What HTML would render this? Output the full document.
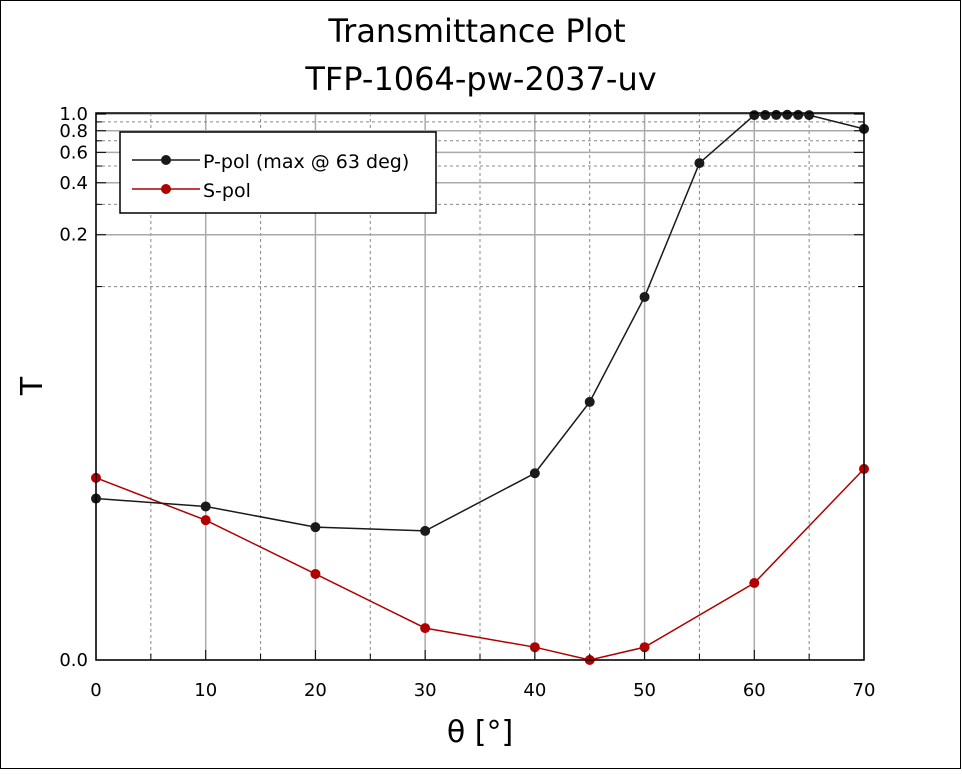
<!DOCTYPE html>
<html><head><meta charset="utf-8"><style>
body{margin:0;background:#fff;font-family:"DejaVu Sans","Liberation Sans",sans-serif}
</style></head><body>
<svg width="962" height="770" xmlns="http://www.w3.org/2000/svg">
<rect x="0.5" y="0.5" width="960" height="768" fill="#fff" stroke="#000"/>
<text x="477" y="42" font-size="32" text-anchor="middle">Transmittance Plot</text>
<text x="481" y="90" font-size="32" text-anchor="middle">TFP-1064-pw-2037-uv</text>
<g id="grid"></g>
<g id="series"></g>
<rect x="96" y="113" width="768" height="547" fill="none" stroke="#000" stroke-width="1.5"/>
<g id="ticks"></g>
<text x="480" y="742" font-size="30" text-anchor="middle">θ [°]</text>
<text x="42" y="386" font-size="30" text-anchor="middle" transform="rotate(-90 42 386)">T</text>
<g>
<rect x="120" y="132" width="316" height="81" fill="#fff" stroke="#000" stroke-width="1.5"/>
<line x1="132" y1="160" x2="200" y2="160" stroke="#1a1a1a" stroke-width="1.5"/>
<circle cx="166" cy="160" r="5" fill="#1a1a1a"/>
<text x="203" y="168" font-size="19">P-pol (max @ 63 deg)</text>
<line x1="132" y1="189" x2="200" y2="189" stroke="#b00000" stroke-width="1.5"/>
<circle cx="166" cy="189" r="5" fill="#b00000"/>
<text x="203" y="197" font-size="19">S-pol</text>
</g>
</svg>
<script>
const pAngles=[0,10,20,30,40,45,50,55,60,61,62,63,64,65,70];
const pValues=[0.0053,0.0047,0.0034,0.0032,0.0077,0.021,0.087,0.52,0.985,0.986,0.988,0.99,0.988,0.985,0.82];
const sAngles=[0,10,20,30,40,45,50,60,70];
const sValues=[0.0072,0.0038,0.0015,0.00037,0.00013,0,0.00013,0.00125,0.0082];
const yTicks=[0,0.2,0.4,0.6,0.8,1.0];
const yMinor=[0.1,0.3,0.5,0.7,0.9];
const xTicks=[0,10,20,30,40,50,60,70];
const xMinor=[5,15,25,35,45,55,65];
const NS="http://www.w3.org/2000/svg";
const C=0.0007,X0=96,X1=864,Y0=660,Y1=114;
const den=Math.log((1+C)/C);
function xs(v){return X0+(X1-X0)*v/70;}
function ys(t){return Y0-(Y0-Y1)*Math.log((t+C)/C)/den;}
function mk(tag,attrs,parent){const e=document.createElementNS(NS,tag);for(const k in attrs)e.setAttribute(k,attrs[k]);parent.appendChild(e);return e;}
const grid=document.getElementById('grid'),ticks=document.getElementById('ticks'),ser=document.getElementById('series');
xTicks.forEach(v=>{const l=mk('line',{x1:xs(v),x2:xs(v),y1:113,y2:660,stroke:'#aaa','stroke-width':1.5},grid);

const t=mk('text',{x:xs(v),y:696,'font-size':18,'text-anchor':'middle'},ticks);t.textContent=v;

mk('line',{x1:xs(v),x2:xs(v),y1:660,y2:650,stroke:'#000'},ticks);});
xMinor.forEach(v=>{const l=mk('line',{x1:xs(v),x2:xs(v),y1:113,y2:660,stroke:'#888','stroke-dasharray':'3,3'},grid);

mk('line',{x1:xs(v),x2:xs(v),y1:660,y2:654,stroke:'#000'},ticks);});
yTicks.forEach(v=>{const y=ys(v);const l=mk('line',{x1:96,x2:864,y1:y,y2:y,stroke:'#aaa','stroke-width':1.5},grid);

const t=mk('text',{x:88,y:y+6,'font-size':18,'text-anchor':'end'},ticks);t.textContent=v.toFixed(1);

mk('line',{x1:96,x2:106,y1:y,y2:y,stroke:'#000'},ticks);mk('line',{x1:854,x2:864,y1:y,y2:y,stroke:'#000'},ticks);});
yMinor.forEach(v=>{const y=ys(v);const l=mk('line',{x1:96,x2:864,y1:y,y2:y,stroke:'#888','stroke-dasharray':'3,3'},grid);

mk('line',{x1:96,x2:102,y1:y,y2:y,stroke:'#000'},ticks);mk('line',{x1:858,x2:864,y1:y,y2:y,stroke:'#000'},ticks);});
function series(ax,vals,color,name){
const pts=ax.map((a,i)=>xs(a)+','+ys(vals[i])).join(' ');
const pl=mk('polyline',{points:pts,fill:'none',stroke:color,'stroke-width':1.5},ser);

ax.forEach((a,i)=>{const c=mk('circle',{cx:xs(a),cy:ys(vals[i]),r:5,fill:color},ser);
});}
series(sAngles,sValues,'#b00000','s-pol');
series(pAngles,pValues,'#1a1a1a','p-pol');
</script>
</body></html>
